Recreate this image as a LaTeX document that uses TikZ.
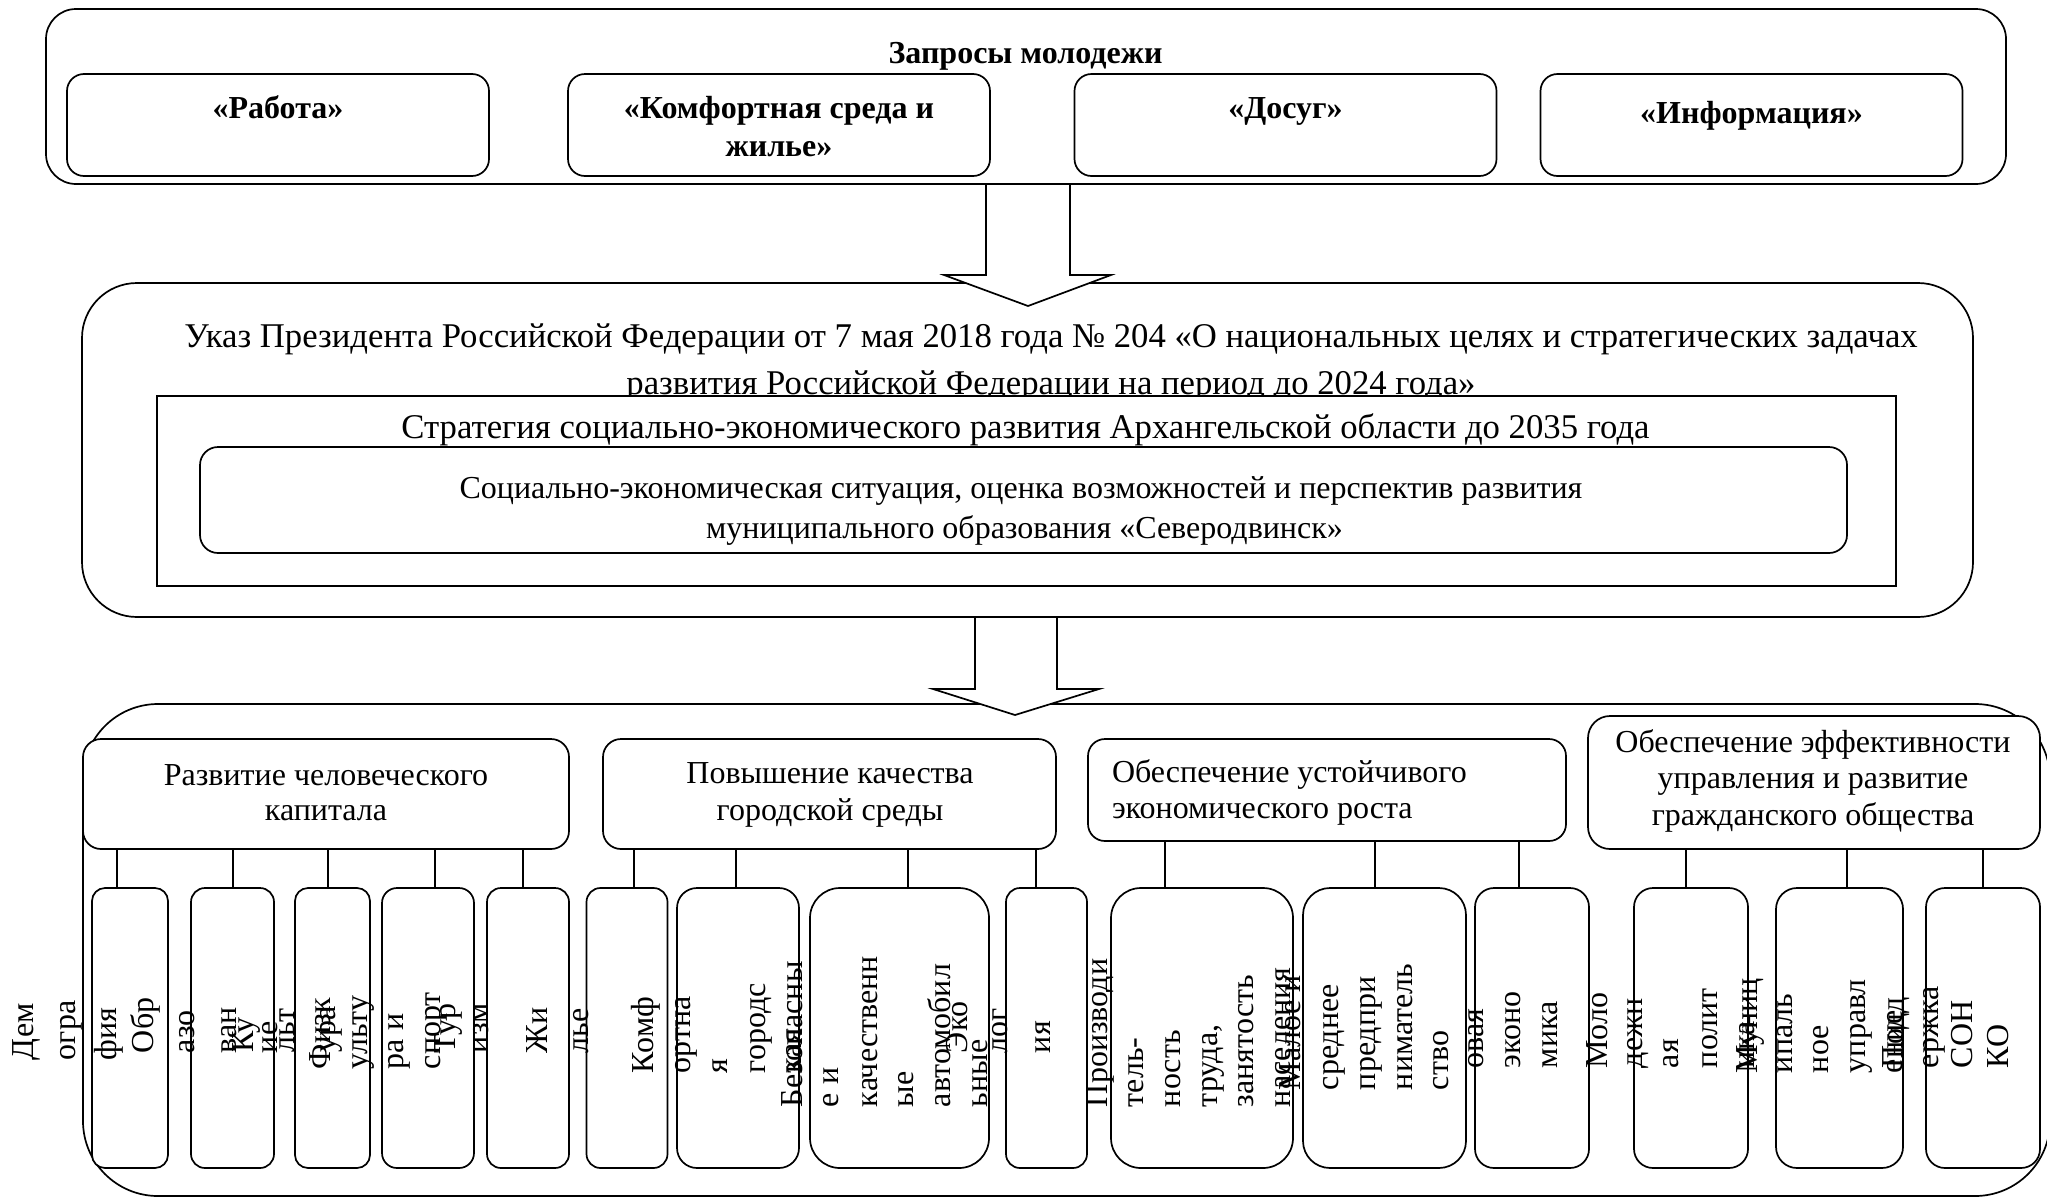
\documentclass[tikz,border=0pt]{standalone}
\usepackage{fontspec}
\setmainfont{Liberation Serif}
\begin{document}
\begin{tikzpicture}[x=1pt,y=-1pt,
  box/.style={draw, fill=white, line width=1.7pt, inner sep=0pt, outer sep=0pt},
  lbl/.style={inner sep=0pt, outer sep=0pt, anchor=base, font=\fontsize{32pt}{37pt}\selectfont},
  biglbl/.style={inner sep=0pt, outer sep=0pt, anchor=base, font=\fontsize{34.7pt}{40pt}\selectfont},
  blbl/.style={inner sep=0pt, outer sep=0pt, anchor=base, font=\fontsize{32pt}{37pt}\selectfont\bfseries},
  vt/.style={inner sep=0pt, outer sep=0pt, anchor=base west, rotate=90, font=\fontsize{32pt}{37pt}\selectfont},
  conn/.style={line width=1.7pt},
  blockarrow/.style={draw, fill=white, line width=1.7pt, line join=miter}
]
\fill[white] (0,0) rectangle (2047,1197);
\useasboundingbox (0,0) rectangle (2047,1197);

% ---------- top block ----------
\node[box, rounded corners=30pt, minimum width=1960pt, minimum height=175pt] (top) at (1026,96.5) {};
\node[box, rounded corners=17pt, minimum width=422pt, minimum height=102pt] (r1) at (278,125) {};
\node[box, rounded corners=17pt, minimum width=422pt, minimum height=102pt] (r2) at (779,125) {};
\node[box, rounded corners=17pt, minimum width=422pt, minimum height=102pt] (r3) at (1285.5,125) {};
\node[box, rounded corners=17pt, minimum width=422pt, minimum height=102pt] (r4) at (1751.5,125) {};
\node[blbl] (ttl) at (1025.5,63) {Запросы молодежи};
\node[blbl] (r1t) at (278,118) {«Работа»};
\node[blbl] (r2t) at (779,118) {«Комфортная среда и};
\node[blbl] (r2u) at (779,156) {жилье»};
\node[blbl] (r3t) at (1285.5,118) {«Досуг»};
\node[blbl] (r4t) at (1751.5,123) {«Информация»};

% ---------- middle block ----------
\node[box, rounded corners=55pt, minimum width=1891pt, minimum height=334pt] (mid) at (1027.5,450) {};
\node[biglbl] (u1) at (1051,347) {Указ Президента Российской Федерации от 7 мая 2018 года № 204 «О национальных целях и стратегических задачах};
\node[biglbl] (u2) at (1051,394) {развития Российской Федерации на период до 2024 года»};
\node[box, minimum width=1739pt, minimum height=190pt] (strat) at (1026.5,491) {};
\node[biglbl] (st) at (1025.5,438) {Стратегия социально-экономического развития Архангельской области до 2035 года};
\node[box, rounded corners=18pt, minimum width=1647pt, minimum height=106pt] (soc) at (1023.5,500) {};
\node[lbl] (so1) at (1021,498) {Социально-экономическая ситуация, оценка возможностей и перспектив развития};
\node[lbl] (so2) at (1024.5,538) {муниципального образования «Северодвинск»};

% arrow 1
\coordinate (a1top) at (1028,184);
\coordinate (a1tip) at (1028,306);
\draw[blockarrow] (a1top) ++(-42,0) -- ++(0,91) -- ++(-42,0) -- (a1tip) -- ++(83,-31) -- ++(-41,0) -- ++(0,-91) -- cycle;

% ---------- bottom block ----------
\node[box, rounded corners=75pt, minimum width=1967pt, minimum height=492pt] (bot) at (1066.5,950) {};
\coordinate (a2top) at (1016,617);
\coordinate (a2tip) at (1015,715);
\draw[blockarrow] (a2top) ++(-41,0) -- ++(0,72) -- ++(-42,0) -- (a2tip) -- ++(84,-26) -- ++(-42,0) -- ++(0,-72) -- cycle;

\node[box, rounded corners=18pt, minimum width=486pt, minimum height=110pt] (cat1) at (326,794) {};
\node[box, rounded corners=18pt, minimum width=453pt, minimum height=110pt] (cat2) at (829.5,794) {};
\node[box, rounded corners=17pt, minimum width=478pt, minimum height=102pt] (cat3) at (1327,790) {};
\node[box, rounded corners=22pt, minimum width=452pt, minimum height=133pt] (cat4) at (1814,782.5) {};
\node[lbl] (c1a) at (326,785) {Развитие человеческого};
\node[lbl] (c1b) at (326,820) {капитала};
\node[lbl] (c2a) at (830,783) {Повышение качества};
\node[lbl] (c2b) at (830,820) {городской среды};
\node[lbl, anchor=base west] (c3a) at (1112,782) {Обеспечение устойчивого};
\node[lbl, anchor=base west] (c3b) at (1112,818) {экономического роста};
\node[lbl] (c4a) at (1813,752) {Обеспечение эффективности};
\node[lbl] (c4b) at (1813,788) {управления и развитие};
\node[lbl] (c4c) at (1813,825) {гражданского общества};

% sub boxes
\node[box, rounded corners=13pt, minimum width=76pt,  minimum height=280pt] (s1)  at (130,1028) {};
\node[box, rounded corners=14pt, minimum width=83pt,  minimum height=280pt] (s2)  at (232.5,1028) {};
\node[box, rounded corners=13pt, minimum width=75pt,  minimum height=280pt] (s3)  at (332.5,1028) {};
\node[box, rounded corners=15pt, minimum width=92pt,  minimum height=280pt] (s4)  at (428,1028) {};
\node[box, rounded corners=14pt, minimum width=82pt,  minimum height=280pt] (s5)  at (528,1028) {};
\node[box, rounded corners=14pt, minimum width=81pt,  minimum height=280pt] (s6)  at (627,1028) {};
\node[box, rounded corners=20pt, minimum width=122pt, minimum height=280pt] (s7)  at (738,1028) {};
\node[box, rounded corners=30pt, minimum width=179pt, minimum height=280pt] (s8)  at (899.5,1028) {};
\node[box, rounded corners=14pt, minimum width=81pt,  minimum height=280pt] (s9)  at (1046.5,1028) {};
\node[box, rounded corners=30pt, minimum width=182pt, minimum height=280pt] (s10) at (1202,1028) {};
\node[box, rounded corners=27pt, minimum width=163pt, minimum height=280pt] (s11) at (1384.5,1028) {};
\node[box, rounded corners=19pt, minimum width=114pt, minimum height=280pt] (s12) at (1532,1028) {};
\node[box, rounded corners=19pt, minimum width=114pt, minimum height=280pt] (s13) at (1691,1028) {};
\node[box, rounded corners=21pt, minimum width=127pt, minimum height=280pt] (s14) at (1839.5,1028) {};
\node[box, rounded corners=19pt, minimum width=114pt, minimum height=280pt] (s15) at (1983,1028) {};

% connectors
\coordinate (k1) at (117,0);   \coordinate (k2) at (233,0);   \coordinate (k3) at (328,0);
\coordinate (k4) at (435,0);   \coordinate (k5) at (523,0);   \coordinate (k6) at (634,0);
\coordinate (k7) at (736,0);   \coordinate (k8) at (908,0);   \coordinate (k9) at (1036,0);
\coordinate (k10) at (1165,0); \coordinate (k11) at (1375,0); \coordinate (k12) at (1519,0);
\coordinate (k13) at (1686,0); \coordinate (k14) at (1847,0); \coordinate (k15) at (1983,0);
\draw[conn] (cat1.south -| k1) -- (s1.north -| k1);
\draw[conn] (cat1.south -| k2) -- (s2.north -| k2);
\draw[conn] (cat1.south -| k3) -- (s3.north -| k3);
\draw[conn] (cat1.south -| k4) -- (s4.north -| k4);
\draw[conn] (cat1.south -| k5) -- (s5.north -| k5);
\draw[conn] (cat2.south -| k6) -- (s6.north -| k6);
\draw[conn] (cat2.south -| k7) -- (s7.north -| k7);
\draw[conn] (cat2.south -| k8) -- (s8.north -| k8);
\draw[conn] (cat2.south -| k9) -- (s9.north -| k9);
\draw[conn] (cat3.south -| k10) -- (s10.north -| k10);
\draw[conn] (cat3.south -| k11) -- (s11.north -| k11);
\draw[conn] (cat3.south -| k12) -- (s12.north -| k12);
\draw[conn] (cat4.south -| k13) -- (s13.north -| k13);
\draw[conn] (cat4.south -| k14) -- (s14.north -| k14);
\draw[conn] (cat4.south -| k15) -- (s15.north -| k15);

% vertical (rotated) texts
\node[vt] (s1a) at (33,1060) {Дем};
\node[vt] (s1b) at (75,1060) {огра};
\node[vt] (s1c) at (116,1060) {фия};
\node[vt] (s2a) at (153,1053) {Обр};
\node[vt] (s2b) at (194,1053) {азо};
\node[vt] (s2c) at (236,1053) {ван};
\node[vt] (s2d) at (277,1053) {ие};
\node[vt] (s3a) at (253,1052) {Ку};
\node[vt] (s3b) at (294,1052) {льт};
\node[vt] (s3c) at (335,1052) {ура};
\node[vt] (s4a) at (330,1069) {Физк};
\node[vt] (s4b) at (367,1069) {ульту};
\node[vt] (s4c) at (403,1069) {ра и};
\node[vt] (s4d) at (440,1069) {спорт};
\node[vt] (s5a) at (455,1053) {Тур};
\node[vt] (s5b) at (488,1053) {изм};
\node[vt] (s6a) at (547,1053) {Жи};
\node[vt] (s6b) at (588,1053) {лье};
\node[vt] (s7a) at (653,1073) {Комф};
\node[vt] (s7b) at (690,1073) {ортна};
\node[vt] (s7c) at (727,1073) {я};
\node[vt] (s7d) at (765,1073) {городс};
\node[vt] (s7e) at (801,1073) {кая};
\node[vt] (s8a) at (802,1107) {Безопасны};
\node[vt] (s8b) at (838,1107) {е и};
\node[vt] (s8c) at (877,1107) {качественн};
\node[vt] (s8d) at (913,1107) {ые};
\node[vt] (s8e) at (950,1107) {автомобил};
\node[vt] (s8f) at (987,1107) {ьные};
\node[vt] (s9a) at (967,1053) {Эко};
\node[vt] (s9b) at (1007,1053) {лог};
\node[vt] (s9c) at (1050,1053) {ия};
\node[vt] (s10a) at (1107,1107) {Производи};
\node[vt] (s10b) at (1143,1107) {тель-};
\node[vt] (s10c) at (1180,1107) {ность};
\node[vt] (s10d) at (1217,1107) {труда,};
\node[vt] (s10e) at (1253,1107) {занятость};
\node[vt] (s10f) at (1290,1107) {населения};
\node[vt] (s11a) at (1300,1090) {Малое и};
\node[vt] (s11b) at (1338,1090) {среднее};
\node[vt] (s11c) at (1375,1090) {предпри};
\node[vt] (s11d) at (1412,1090) {ниматель};
\node[vt] (s11e) at (1448,1090) {ство};
\node[vt] (s12a) at (1483,1068) {овая};
\node[vt] (s12b) at (1520,1068) {эконо};
\node[vt] (s12c) at (1557,1068) {мика};
\node[vt] (s13a) at (1607,1068) {Моло};
\node[vt] (s13b) at (1642,1068) {дежн};
\node[vt] (s13c) at (1678,1068) {ая};
\node[vt] (s13d) at (1717,1068) {полит};
\node[vt] (s13e) at (1754,1068) {ика};
\node[vt] (s14a) at (1757,1073) {Муниц};
\node[vt] (s14b) at (1792,1073) {ипаль};
\node[vt] (s14c) at (1828,1073) {ное};
\node[vt] (s14d) at (1865,1073) {управл};
\node[vt] (s14e) at (1902,1073) {ение};
\node[vt] (s15a) at (1903,1068) {Подд};
\node[vt] (s15b) at (1938,1068) {ержка};
\node[vt] (s15c) at (1972,1068) {СОН};
\node[vt] (s15d) at (2008,1068) {КО};
\end{tikzpicture}
\end{document}
